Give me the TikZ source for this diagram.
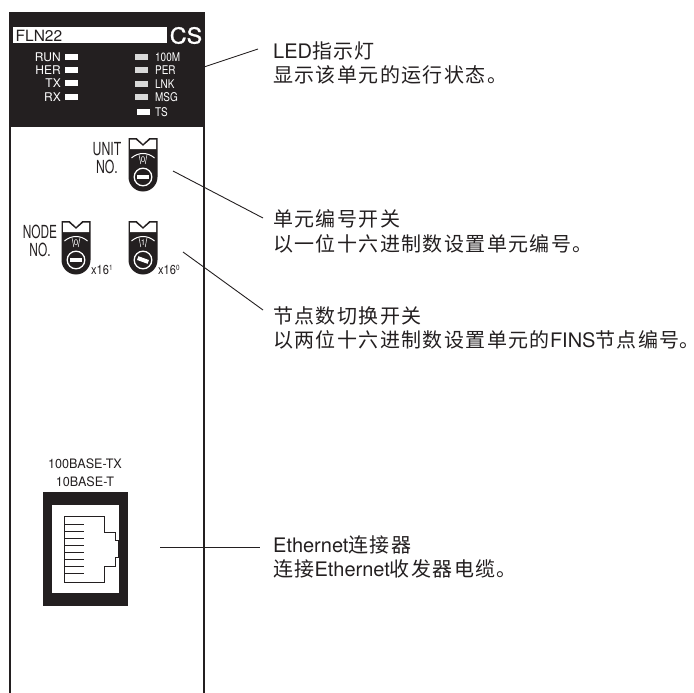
\documentclass[tikz,border=0pt]{standalone}
\usepackage{fontspec}
\usepackage{graphicx}
\setmainfont{TeX Gyre Heros}
\newfontfamily\cjk[LetterSpace=7]{Noto Sans CJK SC}
\newfontfamily\cjkstop[RawFeature=+halt]{Noto Sans CJK SC}
\newfontfamily\logofont[FakeBold=1.2]{TeX Gyre Heros}
\newcommand{\zh}[1]{{\cjk\fontsize{20}{24.5}\selectfont #1}}
\newcommand{\zhstop}{{\cjkstop\fontsize{20}{24.5}\selectfont 。}}
\newcommand{\supdigit}[1]{\raisebox{4pt}{\fontsize{7.5}{7.5}\selectfont #1}}
\newcommand{\tightlines}{\lineskiplimit -20pt\relax}
\definecolor{panelblack}{HTML}{231F20}

\tikzset{
  pics/rotswitch/.style n args={3}{code={
    \fill[panelblack] (-14.5,-39) -- (-6.5,-39) -- (0,-33) -- (6.5,-39) -- (14.5,-39)
      -- (14.5,0) arc (0:180:14.5) -- cycle;
    \fill[white] (-13,-37.5) -- (-7.5,-37.5) -- (0,-31) -- (7.5,-37.5) -- (13,-37.5)
      -- (13,-28) -- (-13,-28) -- cycle;
    \draw[white,line width=1pt] (-11.5,-19) .. controls (-5,-25) and (5,-25) .. (11.5,-19);
    \draw[white,line width=0.5pt] (-4,-22.5) -- (-2.2,-13) (4,-22.5) -- (2.2,-13);
    \node[digitlabel] (#3digit) at (0,-17.5) {#1};
    \draw[white,line width=1.3pt] (0,0) circle (8.8);
    \fill[white,rotate=#2] (-5.6,-2) rectangle (5.6,2);
  }}
}

\begin{document}
\begin{tikzpicture}[x=1pt,y=-1pt,
    panelwall/.style = {panelblack, line width=2pt},
    leader/.style = {panelblack, line width=0.9pt},
    ledlabel/.style = {white, inner sep=0pt, font=\fontsize{12}{12}\selectfont},
    digitlabel/.style = {white, inner sep=0pt, font=\fontsize{8}{8}\selectfont},
    switchlabel/.style = {panelblack, inner sep=0pt, align=center,
      font=\fontsize{18}{18}\selectfont},
    factorlabel/.style = {panelblack, inner sep=0pt, anchor=west,
      font=\fontsize{13}{13}\selectfont},
    portlabel/.style = {panelblack, inner sep=0pt, font=\fontsize{13}{13}\selectfont},
    callout/.style = {panelblack, inner sep=0pt, anchor=west, align=left,
      font=\fontsize{20}{24.5}\selectfont\tightlines}]
  \useasboundingbox (0,0) rectangle (694,693);

  % front panel
  \fill[panelblack] (9,12) rectangle (204.5,127);
  \draw[panelwall] (10,127) -- (10,693);
  \draw[panelwall] (203.5,127) -- (203.5,693);
  \fill[white] (13,27) rectangle (167,43);
  \node[panelblack, inner sep=0pt, anchor=west, font=\fontsize{15.5}{15.5}\selectfont]
    (modelname) at (15.5,35.5) {FLN22};
  \node[white, inner sep=0pt, font=\logofont\fontsize{22}{22}\selectfont] (serieslogo) at (186,35.5) {\scalebox{1.06}[1]{CS}};

  % indicators
  \foreach \name/\ypos in {RUN/57,HER/70,TX/83.5,RX/97} {
    \fill[white] (65,\ypos-3) rectangle (78,\ypos+3);
    \node[ledlabel, anchor=east] (led\name) at (61,\ypos) {\name};
  }
  \foreach \name/\ypos in {100M/57.5,PER/70.5,LNK/84,MSG/97.5} {
    \fill[white!85!black] (135,\ypos-3) rectangle (148,\ypos+3);
    \node[ledlabel, anchor=west] (led\name) at (155,\ypos) {\scalebox{0.83}[1]{\name}};
  }
  \fill[white] (137,109) rectangle (150,115);
  \node[ledlabel, anchor=west] (ledTS) at (155,112) {\scalebox{0.83}[1]{TS}};

  % rotary switches
  \pic at (143,177) {rotswitch={0}{0}{unit}};
  \pic at (76,260) {rotswitch={0}{0}{nodeh}};
  \pic at (143,260) {rotswitch={1}{-20}{nodel}};
  \node[switchlabel] (unitno) at (107,158) {\scalebox{0.68}[1]{UNIT}\\\scalebox{0.68}[1]{NO.}};
  \node[switchlabel] (nodeno) at (40,241) {\scalebox{0.66}[1]{NODE}\\\scalebox{0.66}[1]{NO.}};
  \node[factorlabel] (factorh) at (91,270) {\scalebox{0.85}[1]{x16\supdigit{1}}};
  \node[factorlabel] (factorl) at (158,270) {\scalebox{0.85}[1]{x16\supdigit{0}}};

  % connector
  \node[portlabel] (portfast) at (85,463.5) {\scalebox{0.97}[1]{100BASE-TX}};
  \node[portlabel] (portbase) at (85,481.5) {\scalebox{0.97}[1]{10BASE-T}};
  \fill[panelblack] (43,492) rectangle (128,606);
  \fill[white] (52,505) rectangle (119,593);
  \draw[panelblack, line width=1pt] (104,516) -- (64,516) -- (64,582) -- (104,582)
    -- (104,566) -- (115.5,566) -- (115.5,557) -- (118.5,557) -- (118.5,540)
    -- (115.5,540) -- (115.5,532) -- (104,532) -- cycle;
  \foreach \ypos in {524,531,...,573}
    \draw[panelblack, line width=1pt] (64,\ypos) -- (84,\ypos);

  % texts on the right
  \node[callout] (ledtext) at (273,63) {LED\zh{指示灯}\\\zh{显示该单元的运行状态。}};
  \node[callout] (unittext) at (273,231.5) {\zh{单元编号开关}\\\zh{以一位十六进制数设置单元编号。}};
  \node[callout] (nodetext) at (273,328) {\zh{节点数切换开关}\\\zh{以两位十六进制数设置单元的}FINS\zh{节点编号}\zhstop};
  \node[callout] (enettext) at (273,557) {Ethernet\zh{连接器}\\\zh{连接}Ethernet\zh{收发器电缆。}};

  \coordinate (ledpoint) at (204,67);
  \coordinate (ledbend) at (258,49);
  \coordinate (unitpoint) at (173,171);
  \coordinate (unitbend) at (263,218);
  \coordinate (nodepoint) at (183,252);
  \coordinate (nodebend) at (263,310);
  \coordinate (enetpoint) at (160,547);
  \coordinate (enetbend) at (260,547);
  \draw[leader] (ledpoint) -- (ledbend);
  \draw[leader] (unitpoint) -- (unitbend);
  \draw[leader] (nodepoint) -- (nodebend);
  \draw[leader] (enetpoint) -- (enetbend);
\end{tikzpicture}
\end{document}
